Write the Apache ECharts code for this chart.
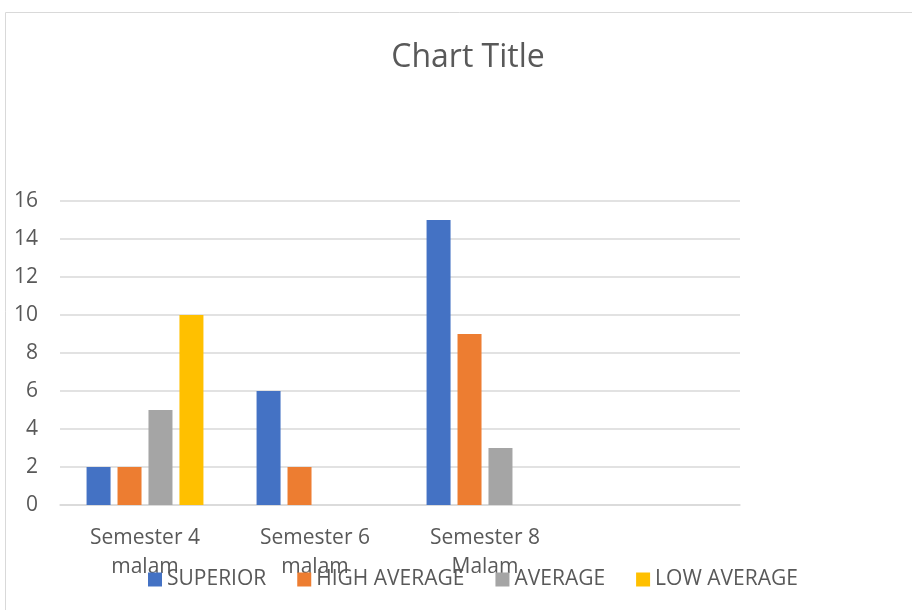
<!DOCTYPE html>
<html>
<head>
<meta charset="utf-8">
<script src="https://cdn.jsdelivr.net/npm/echarts@6/dist/echarts.min.js"></script>
<style>
  html, body { margin: 0; padding: 0; background: #fff; }
  #main { width: 912px; height: 610px; }
</style>
</head>
<body>
<div id="main"></div>
<script>
// data
const categories = ['Semester 4\nmalam', 'Semester 6\nmalam', 'Semester 8\nMalam', ''];
const superior = [2, 6, 15, null];
const highAverage = [2, 2, 9, null];
const average = [5, null, 3, null];
const lowAverage = [10, null, null, null];
const yTicks = { min: 0, max: 16, step: 2 };

const seriesNames = ['SUPERIOR', 'HIGH AVERAGE', 'AVERAGE', 'LOW AVERAGE'];
const seriesData = [superior, highAverage, average, lowAverage];
const colors = ['#4472c4', '#ed7d31', '#a5a5a5', '#ffc000'];

const font = '"Open Sans", "Liberation Sans", sans-serif';
const chart = echarts.init(document.getElementById('main'));

chart.setOption({
    animation: false,
    color: colors,
    title: {
        text: 'Chart Title',
        left: 463,
        textAlign: 'center',
        top: 37,
        textStyle: { fontFamily: font, fontSize: 32, fontWeight: 'normal', color: '#595959' }
    },
    // thin outer frame like the spreadsheet chart area
    graphic: [{
        type: 'rect',
        shape: { x: 5.5, y: 12.5, width: 1000, height: 700 },
        style: { fill: 'none', stroke: '#d9d9d9', lineWidth: 1 },
        silent: true
    }],
    grid: { left: 60, right: 172, top: 201, bottom: 105 },
    legend: {
        data: seriesNames,
        left: 143,
        top: 564,
        itemWidth: 14,
        itemHeight: 14,
        itemGap: 31,
        icon: 'rect',
        textStyle: { fontFamily: font, fontSize: 21, color: '#595959' }
    },
    xAxis: {
        type: 'category',
        data: categories,
        axisLine: { lineStyle: { color: '#d9d9d9', width: 1.5 } },
        axisTick: { show: false },
        axisLabel: {
            fontFamily: font, fontSize: 21, color: '#595959',
            margin: 19, lineHeight: 29, interval: 0
        }
    },
    yAxis: {
        type: 'value',
        min: yTicks.min,
        max: yTicks.max,
        interval: yTicks.step,
        axisLine: { show: false },
        axisTick: { show: false },
        splitLine: { lineStyle: { color: '#d9d9d9', width: 1.5 } },
        axisLabel: { fontFamily: font, fontSize: 21, color: '#595959', margin: 22 }
    },
    series: seriesNames.map((name, i) => ({
        name: name,
        type: 'bar',
        data: seriesData[i],
        barWidth: 24,
        barGap: '29%'
    }))
});
</script>
</body>
</html>
